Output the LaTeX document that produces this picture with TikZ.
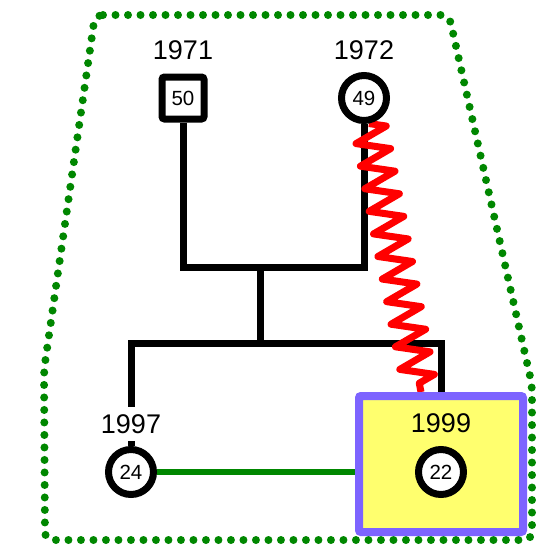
\documentclass[tikz,border=0pt]{standalone}
\usepackage{fontspec}
\setmainfont{Liberation Sans}
\usetikzlibrary{decorations.pathmorphing,backgrounds}
\definecolor{pedgreen}{RGB}{0,135,0}
\definecolor{pedred}{RGB}{255,0,0}
\definecolor{pedpurple}{RGB}{125,100,255}
\definecolor{pedyellow}{RGB}{255,255,110}
\begin{document}
\begin{tikzpicture}[x=1pt,y=-1pt,
  yearlbl/.style={font=\fontsize{27}{30}\selectfont, inner sep=0pt},
  numfont/.style={font=\fontsize{20.5}{24}\selectfont},
  malebox/.style={draw=black, line width=7pt, fill=white, rounded corners=2.5pt,
    minimum size=42pt, inner sep=0pt, numfont},
  femcirc/.style={circle, draw=black, line width=7pt, fill=white,
    minimum size=45pt, inner sep=0pt, numfont},
  famline/.style={line width=7pt, draw=black},
  zzline/.style={line width=7pt, draw=pedred, line join=round,
    decorate, decoration={zigzag, segment length=23pt, amplitude=16.5pt}},
  grline/.style={line width=6.5pt, draw=pedgreen},
  dotline/.style={line width=8pt, draw=pedgreen, line cap=round,
    dash pattern=on 0pt off 12.5pt, rounded corners=8pt},
  hlbox/.style={draw=pedpurple, fill=pedyellow, line width=8pt,
    rounded corners=2pt, minimum width=164pt, minimum height=136pt}
]
\useasboundingbox (0,0) rectangle (547,550);

% highlighted box and nodes
\node[hlbox] (box) at (441,464) {};
\node[malebox] (sq) at (183,98) {50};
\node[femcirc] (c49) at (364,98) {49};
\node[femcirc] (c24) at (131,472) {24};
\node[femcirc] (c22) at (441,472) {22};

\node[yearlbl] (y71) at (183,50.5) {1971};
\node[yearlbl] (y72) at (364,50.5) {1972};
\node[yearlbl] (y99) at (441,423) {1999};

\coordinate (mj) at (260,267);
\coordinate (sj) at (260,343);
\coordinate (zz) at (421,392);

\begin{scope}[on background layer]
  \fill[white] (0,0) rectangle (547,550);
  \draw[dotline] (95,15) -- (449,15) -- (532,385) -- (532,540) -- (45,540) -- (44,370) -- cycle;
  \draw[famline] (sq) |- (mj) -| (c49);
  \draw[famline] (mj) -- (sj);
  \draw[famline] (c24) |- (sj) -| (box);
  \draw[zzline] (c49) -- (zz);
  \draw[grline] (c24) -- (c24 -| box.west);
\end{scope}

\node[yearlbl, fill=white, inner xsep=2pt, inner ysep=7pt] (y97) at (131,424) {1997};
\end{tikzpicture}
\end{document}
